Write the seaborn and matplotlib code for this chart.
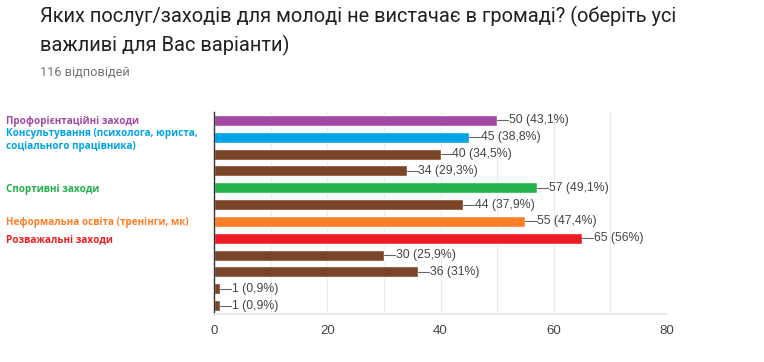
import matplotlib
matplotlib.use("Agg")
import matplotlib.pyplot as plt
import numpy as np
import pandas as pd
import seaborn as sns

# values
labels = [
    "Профорієнтаційні заходи",
    "Консультування (психолога, юриста,\nсоціального працівника)",
    "", "",
    "Спортивні заходи",
    "",
    "Неформальна освіта (тренінги, мк)",
    "Розважальні заходи",
    "", "", "", "",
]
counts = [50, 45, 40, 34, 57, 44, 55, 65, 30, 36, 1, 1]
value_labels = ["50 (43,1%)", "45 (38,8%)", "40 (34,5%)", "34 (29,3%)",
                "57 (49,1%)", "44 (37,9%)", "55 (47,4%)", "65 (56%)",
                "30 (25,9%)", "36 (31%)", "1 (0,9%)", "1 (0,9%)"]

PURPLE, BLUE, BROWN = "#a349a4", "#00a2e8", "#7b4426"
GREEN, ORANGE, RED = "#22b14c", "#ff7f27", "#ed1c24"
colors = [PURPLE, BLUE, BROWN, BROWN, GREEN, BROWN, ORANGE, RED,
          BROWN, BROWN, BROWN, BROWN]

df = pd.DataFrame({"pos": np.arange(len(counts)), "count": counts})

sns.set_theme(style="white")
plt.rcParams["font.family"] = ["Liberation Sans", "DejaVu Sans"]

fig = plt.figure(figsize=(7.64, 3.62), dpi=100)
ax = fig.add_axes([214 / 764, 1 - 314 / 362, (667 - 214) / 764, (314 - 112) / 362])

sns.barplot(data=df, x="count", y="pos", hue="pos", palette=colors,
            orient="y", legend=False, width=0.65, saturation=1, ax=ax)

ax.set_xlim(0, 80)
ax.set_ylim(len(counts) - 0.5, -0.5)
ax.set_xticks([0, 20, 40, 60, 80])
ax.set_xticks(np.arange(0, 81, 10), minor=True)
ax.grid(axis="x", which="both", color="#ebebeb", lw=0.8)
ax.set_axisbelow(True)
ax.set_xlabel("")
ax.set_ylabel("")
ax.tick_params(axis="x", length=0, pad=8, labelsize=9.5, labelcolor="#444444")

ax.set_yticks(range(len(labels)))
ax.set_yticklabels(labels)
ax.tick_params(axis="y", length=0, pad=150)
for t, c in zip(ax.get_yticklabels(), colors):
    t.set_ha("left")
    t.set_color(c)
    t.set_fontfamily(["Open Sans", "DejaVu Sans"])
    t.set_fontweight("bold")
    t.set_fontsize(7.1)
    t.set_linespacing(1.3)

for s in ["top", "right"]:
    ax.spines[s].set_visible(False)
ax.spines["left"].set_color("#333333")
ax.spines["left"].set_linewidth(1)
ax.spines["bottom"].set_color("#e6e6e6")

for i, (v, lab) in enumerate(zip(counts, value_labels)):
    ax.plot([v, v + 2.0], [i, i], color="#666666", lw=0.8)
    ax.text(v + 2.1, i, lab, va="center", ha="left", fontsize=8.8, color="#444444")

fig.text(40 / 764, 1 - 31 / 362,
         "Яких послуг/заходів для молоді не вистачає в громаді? (оберіть усі\nважливі для Вас варіанти)",
         ha="left", va="center", fontsize=14.4, color="#212121",
         family=["Roboto", "DejaVu Sans"], linespacing=1.45)
fig.text(40 / 764, 1 - 73 / 362, "116 відповідей", ha="left", va="center",
         fontsize=9.2, color="#757575", family=["Roboto", "DejaVu Sans"])

fig.savefig("out.png", dpi=100)
